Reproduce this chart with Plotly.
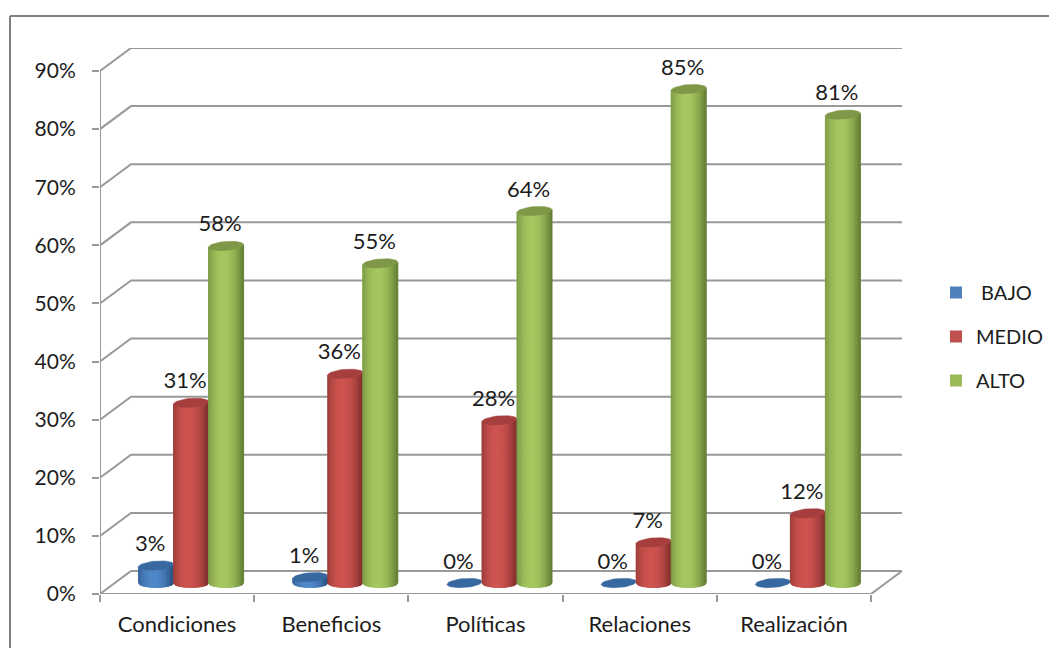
import math
import plotly.graph_objects as go

categories = ["Condiciones", "Beneficios", "Políticas", "Relaciones", "Realización"]
bajo = [3, 1, 0, 0, 0]
medio = [31, 36, 28, 7, 12]
alto = [58, 55, 64, 85, 80.6]
series_names = [" BAJO", "MEDIO", "ALTO"]
tick_values = [0, 10, 20, 30, 40, 50, 60, 70, 80, 90]

W, H = 1049, 648
PX_L, PX_R, PX_T, PX_B = 100, 902, 48, 594      # plot box in page pixels
PX_PER_CAT = 154.2
PX_PER_PCT = 523 / 90
x_min = -0.5
x_max = x_min + (PX_R - PX_L) / PX_PER_CAT
y_max = (PX_B - PX_T) / PX_PER_PCT
px_x = lambda p: p / PX_PER_CAT
px_y = lambda p: p / PX_PER_PCT

DEPTH_X, DEPTH_Y = px_x(31), px_y(23)
CYL_DX, CYL_DY = px_x(14), px_y(11)
CYL_W = px_x(35)
CAP_H = px_y(4.5)
TILT = px_y(1.3)

palette = {
    0: dict(edge=(38, 78, 124), mid=(80, 136, 200), cap=(56, 104, 160), base="#4F81BD"),
    1: dict(edge=(125, 46, 44), mid=(206, 84, 80), cap=(165, 62, 60), base="#C0504D"),
    2: dict(edge=(98, 124, 52), mid=(165, 199, 96), cap=(126, 152, 72), base="#9BBB59"),
}
GRID = "#999999"
TXT = "#1c1c1c"
STRIPS = 26

fig = go.Figure()

# Real bars: they carry the values and the legend; cylinder shading sits on them
for s, vals in enumerate([bajo, medio, alto]):
    fig.add_trace(go.Bar(
        x=list(range(5)), y=vals, base=[CYL_DY] * 5, name=series_names[s],
        width=CYL_W, offset=CYL_DX + (s - 1.5) * CYL_W,
        marker=dict(color=palette[s]["base"], line=dict(width=0)),
        legendgroup=series_names[s], hoverinfo="skip",
    ))

# Walls, floor and gridlines in oblique projection
gx, gy = [], []
for t in tick_values:
    gx += [x_min, x_min + DEPTH_X, x_max, None]
    gy += [t, t + DEPTH_Y, t + DEPTH_Y, None]
gx += [x_min, x_min, None, x_min, x_max - DEPTH_X, x_max, None]
gy += [0, tick_values[-1], None, 0, 0, DEPTH_Y, None]
fig.add_trace(go.Scatter(x=gx, y=gy, mode="lines", line=dict(color=GRID, width=2),
                         showlegend=False, hoverinfo="skip", connectgaps=False, cliponaxis=False))


def shade(s, u):
    p = palette[s]
    k = max(0.0, 1 - abs((u + 0.12) / 1.12) ** 2.0)
    return "rgb(%d,%d,%d)" % tuple(round(e + (m - e) * k) for e, m in zip(p["edge"], p["mid"]))


# Cylinders
for s, vals in enumerate([bajo, medio, alto]):
    for j in range(STRIPS):
        u0 = -1 + 2 * j / STRIPS
        u1 = -1 + 2 * (j + 1) / STRIPS
        xs, ys = [], []
        for i, v in enumerate(vals):
            if v <= 0:
                continue
            cx = i + CYL_DX + (s - 1) * CYL_W
            top = v + CYL_DY
            fr = lambda u: CAP_H * math.sqrt(max(0, 1 - u * u))
            xs += [cx + u0 * CYL_W / 2, cx + u1 * CYL_W / 2,
                   cx + u1 * CYL_W / 2, cx + u0 * CYL_W / 2,
                   cx + u0 * CYL_W / 2, None]
            ys += [CYL_DY - fr(u0), CYL_DY - fr(u1),
                   top - fr(u1) + TILT * u1, top - fr(u0) + TILT * u0,
                   CYL_DY - fr(u0), None]
        c = shade(s, (u0 + u1) / 2)
        fig.add_trace(go.Scatter(x=xs, y=ys, mode="lines", fill="toself", fillcolor=c,
                                 line=dict(color=c, width=1), showlegend=False,
                                 hoverinfo="skip"))
    # top caps
    xs, ys = [], []
    for i, v in enumerate(vals):
        cx = i + CYL_DX + (s - 1) * CYL_W
        top = v + CYL_DY
        for a in range(0, 41):
            th = 2 * math.pi * a / 40
            u = math.cos(th)
            xs.append(cx + u * CYL_W / 2)
            ys.append(top + CAP_H * math.sin(th) + TILT * u)
        xs.append(None)
        ys.append(None)
    cap = "rgb(%d,%d,%d)" % palette[s]["cap"]
    fig.add_trace(go.Scatter(x=xs, y=ys, mode="lines", fill="toself", fillcolor=cap,
                             line=dict(color=cap, width=0.5), showlegend=False,
                             hoverinfo="skip"))

# Data labels
for s, vals in enumerate([bajo, medio, alto]):
    fig.add_trace(go.Scatter(
        x=[i + CYL_DX + (s - 1) * CYL_W - px_x(6) for i in range(5)],
        y=[v + CYL_DY + px_y(20) for v in vals],
        mode="text", text=[f"{v:.0f}%" for v in vals], textposition="middle center",
        textfont=dict(family="Lato", size=22, color=TXT),
        showlegend=False, hoverinfo="skip", cliponaxis=False,
    ))

to_paper_x = lambda p: (p - 100) / (W - 100)
to_paper_y = lambda p: (PX_B - p) / (PX_B - PX_T)
frame = dict(type="line", xref="paper", yref="paper", line=dict(color="#808080", width=2), layer="below")

fig.update_layout(
    width=W, height=H, autosize=False,
    margin=dict(l=PX_L, r=0, t=PX_T, b=H - PX_B, pad=0),
    paper_bgcolor="white", plot_bgcolor="white",
    barmode="overlay",
    font=dict(family="Lato", size=21, color=TXT),
    xaxis=dict(domain=[0, to_paper_x(PX_R)], range=[x_min, x_max], tickmode="array",
               tickvals=list(range(5)), ticktext=categories,
               ticks="", ticklen=0, showgrid=False, zeroline=False, showline=False,
               ticklabelstandoff=15,
               tickfont=dict(family="Lato", size=22, color=TXT),
               minor=dict(tickmode="array", tickvals=[i - 0.5 for i in range(6)], ticks="outside",
                          ticklen=7, tickwidth=2, tickcolor=GRID, showgrid=False)),
    yaxis=dict(range=[0, y_max], tickmode="array", tickvals=tick_values,
               ticktext=[f"{t}%" for t in tick_values], ticks="outside", ticklen=7, tickwidth=2,
               tickcolor=GRID, showgrid=False, zeroline=False, showline=False,
               ticklabelstandoff=12,
               tickfont=dict(family="Lato", size=21, color=TXT)),
    legend=dict(x=to_paper_x(936), xanchor="left", y=to_paper_y(273), yanchor="top",
                traceorder="grouped", tracegroupgap=15, bgcolor="rgba(0,0,0,0)",
                font=dict(family="Lato", size=20, color=TXT)),
    shapes=[
        dict(frame, x0=to_paper_x(10), x1=to_paper_x(W), y0=to_paper_y(16), y1=to_paper_y(16)),
        dict(frame, x0=to_paper_x(10), x1=to_paper_x(10), y0=to_paper_y(16), y1=to_paper_y(H)),
    ],
)

fig.write_html("out.html", config={"displayModeBar": False},
               post_script="document.body.style.margin='0';document.body.style.overflow='hidden';")
